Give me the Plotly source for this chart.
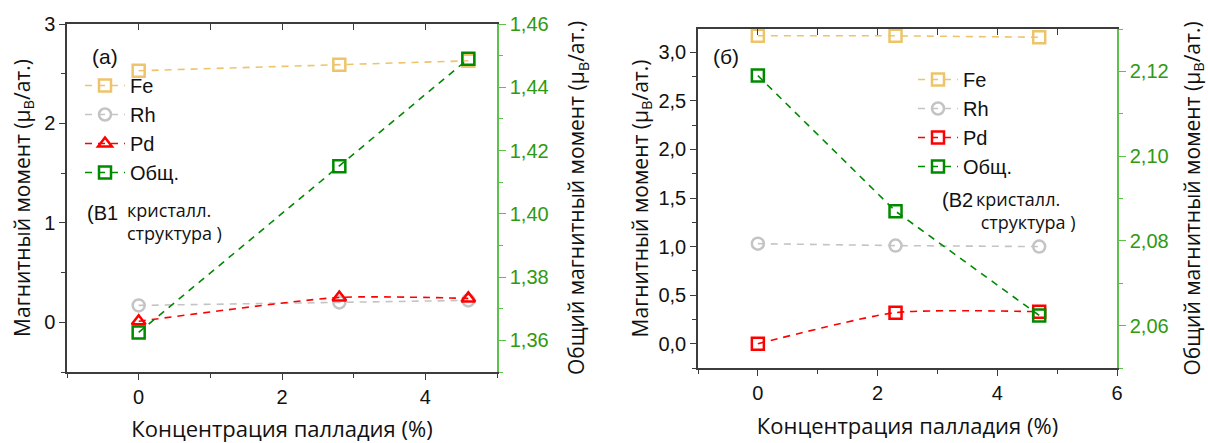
import plotly.graph_objects as go

# ---- data: panel (a) B1 structure ----
x_a = [0, 2.8, 4.6]
fe_a = [2.53, 2.59, 2.63]
rh_a = [0.17, 0.20, 0.22]
pd_a = [0.01, 0.25, 0.24]
tot_a = [1.3625, 1.415, 1.449]

# ---- data: panel (б) B2 structure ----
x_b = [0, 2.3, 4.7]
fe_b = [3.17, 3.17, 3.155]
rh_b = [1.03, 1.01, 1.00]
pd_b = [0.0, 0.32, 0.33]
tot_b = [2.119, 2.087, 2.0624]

series_names = ["Fe", "Rh", "Pd", "Общ."]

FE_C = "#EEC46A"
RH_C = "#C4C4C4"
PD_C = "#FF0000"
TOT_C = "#008A00"
AX_C = "#3c3c3c"
GR_AX = "#5cc24a"
GR_TXT = "#2f9a10"

TICKF = dict(family="Liberation Sans, Arial", size=20, color="#111")
TITLEF_X = dict(family="Open Sans, Liberation Sans", size=22, color="#111")
TITLEF_Y = dict(family="Open Sans, Liberation Sans", size=21, color="#111")
LEGF = dict(family="Liberation Sans, Arial", size=20, color="#111")

fig = go.Figure()

def add(x, y, name, color, symbol, xa, ya, legend, shape="linear"):
    fig.add_trace(go.Scatter(
        x=x, y=y, name=name, mode="lines+markers",
        line=dict(color=color, width=1.6, dash="7px,6px", shape=shape, smoothing=0.6),
        marker=dict(symbol=symbol, size=12, color=color,
                    line=dict(color=color, width=2.5)),
        xaxis=xa, yaxis=ya, showlegend=True, legend=legend))

# panel a
add(x_a, fe_a, series_names[0], FE_C, "square-open", "x", "y", "legend")
add(x_a, rh_a, series_names[1], RH_C, "circle-open", "x", "y", "legend")
add(x_a, pd_a, series_names[2], PD_C, "triangle-up-open", "x", "y", "legend", "spline")
add(x_a, tot_a, series_names[3], TOT_C, "square-open", "x", "y2", "legend")
# panel b
add(x_b, fe_b, series_names[0], FE_C, "square-open", "x3", "y3", "legend2")
add(x_b, rh_b, series_names[1], RH_C, "circle-open", "x3", "y3", "legend2")
add(x_b, pd_b, series_names[2], PD_C, "square-open", "x3", "y3", "legend2", "spline")
add(x_b, tot_b, series_names[3], TOT_C, "square-open", "x3", "y4", "legend2")

# dummy traces for top tick axes
fig.add_trace(go.Scatter(x=[None], y=[None], xaxis="x2", yaxis="y", showlegend=False, hoverinfo="skip"))
fig.add_trace(go.Scatter(x=[None], y=[None], xaxis="x4", yaxis="y3", showlegend=False, hoverinfo="skip"))

dA = [67/1208, 497/1208]
dAy = [(443-372)/443, (443-24)/443]
dB = [698/1208, 1117/1208]
dBy = [(443-368)/443, (443-29)/443]

base = dict(showline=True, linecolor=AX_C, linewidth=1.5, ticks="outside", ticklen=6,
            tickwidth=1.3, tickcolor=AX_C, tickfont=TICKF, showgrid=False, zeroline=False,
            automargin=False)
minor_k = dict(ticks="outside", ticklen=4, tickwidth=1.3, tickcolor=AX_C)
minor_g = dict(ticks="outside", ticklen=4, tickwidth=1.3, tickcolor=GR_AX)
green = dict(showline=True, linecolor=GR_AX, linewidth=1.5, ticks="outside", ticklen=7,
             tickwidth=1.3, tickcolor=GR_AX,
             tickfont=dict(family="Liberation Sans, Arial", size=20, color=GR_TXT),
             showgrid=False, zeroline=False, automargin=False)
top = dict(side="top", ticks="inside", ticklen=6, tickwidth=1.3, tickcolor=AX_C,
           showticklabels=False, showline=True, linecolor=AX_C, linewidth=1.5,
           showgrid=False, zeroline=False, automargin=False)

fig.update_layout(
    width=1208, height=443, margin=dict(l=0, r=0, t=0, b=0, autoexpand=False),
    paper_bgcolor="white", plot_bgcolor="white", separators=",.",
    showlegend=True,
    xaxis=dict(domain=dA, anchor="y", range=[-1, 5], tickvals=[0, 2, 4],
               minor=dict(tickvals=[-1, 1, 3, 5], **minor_k), **base,
               title=dict(text="Концентрация палладия (%)", font=TITLEF_X, standoff=16)),
    xaxis2=dict(domain=dA, anchor="y", overlaying="x", range=[-1, 5],
                tickvals=[-1, 0, 1, 2, 3, 4, 5], **top),
    yaxis=dict(domain=dAy, anchor="x", range=[-0.5, 3], tickvals=[0, 1, 2, 3],
               minor=dict(tickvals=[-0.5, 0.5, 1.5, 2.5], **minor_k), **base,
               title=dict(text="Магнитный момент (μ<sub>B</sub>/ат.)", font=TITLEF_Y, standoff=8)),
    yaxis2=dict(anchor="x", overlaying="y", side="right", range=[1.35, 1.46],
                tickvals=[1.36, 1.38, 1.40, 1.42, 1.44, 1.46], tickformat=".2f",
                minor=dict(tickvals=[1.35, 1.37, 1.39, 1.41, 1.43, 1.45], **minor_g), **green,
                title=dict(text="Общий магнитный момент (μ<sub>B</sub>/ат.)", font=TITLEF_Y, standoff=22)),
    xaxis3=dict(domain=dB, anchor="y3", range=[-1, 6], tickvals=[0, 2, 4, 6],
                minor=dict(tickvals=[-1, 1, 3, 5], **minor_k), **base,
                title=dict(text="Концентрация палладия (%)", font=TITLEF_X, standoff=16)),
    xaxis4=dict(domain=dB, anchor="y3", overlaying="x3", range=[-1, 6],
                tickvals=[-1, 0, 1, 2, 3, 4, 5, 6], **top),
    yaxis3=dict(domain=dBy, anchor="x3", range=[-0.25, 3.24],
                tickvals=[0, 0.5, 1, 1.5, 2, 2.5, 3], tickformat=".1f",
                minor=dict(tickvals=[-0.25, 0.25, 0.75, 1.25, 1.75, 2.25, 2.75], **minor_k), **base,
                title=dict(text="Магнитный момент (μ<sub>B</sub>/ат.)", font=TITLEF_Y, standoff=4)),
    yaxis4=dict(anchor="x3", overlaying="y3", side="right", range=[2.05, 2.13],
                tickvals=[2.06, 2.08, 2.10, 2.12], tickformat=".2f",
                minor=dict(tickvals=[2.05, 2.07, 2.09, 2.11, 2.13], **minor_g), **green,
                title=dict(text="Общий магнитный момент (μ<sub>B</sub>/ат.)", font=TITLEF_Y, standoff=24)),
    legend=dict(x=80/1208, y=1-66/443, xanchor="left", yanchor="top",
                bgcolor="rgba(0,0,0,0)", font=LEGF, tracegroupgap=0, itemwidth=40),
    legend2=dict(x=913/1208, y=1-60/443, xanchor="left", yanchor="top",
                 bgcolor="rgba(0,0,0,0)", font=LEGF, tracegroupgap=0, itemwidth=40),
)

def note(text, x, y, size, fam="Liberation Sans, Arial"):
    fig.add_annotation(text=text, xref="paper", yref="paper", x=x/1208, y=1-y/443,
                       xanchor="left", yanchor="middle", align="left", showarrow=False,
                       font=dict(family=fam, size=size, color="#111"))

note("(a)", 90, 56, 21)
note("(б)", 711, 57, 21)
note("(B1", 85, 213, 20)
note("кристалл.<br>структура )", 125, 221, 18, "Open Sans, Liberation Sans")
note("(B2", 940, 200, 20)
note("кристалл.<br> структура )", 974, 210, 18, "Open Sans, Liberation Sans")

fig.write_html("out.html")
